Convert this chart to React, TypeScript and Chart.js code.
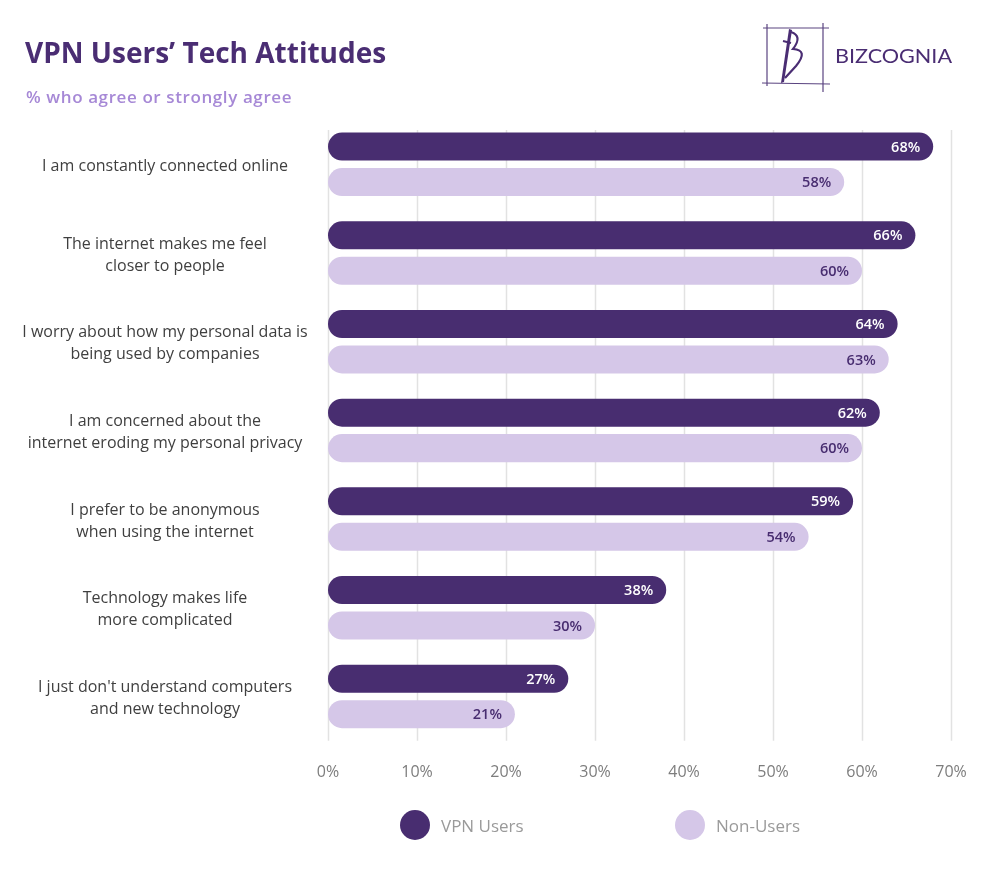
import React, { useEffect, useRef } from "react";
import { Chart, registerables } from "chart.js";

Chart.register(...registerables);

const categories: string[][] = [
  ["I am constantly connected online"],
  ["The internet makes me feel", "closer to people"],
  ["I worry about how my personal data is", "being used by companies"],
  ["I am concerned about the", "internet eroding my personal privacy"],
  ["I prefer to be anonymous", "when using the internet"],
  ["Technology makes life", "more complicated"],
  ["I just don't understand computers", "and new technology"],
];
const vpnUsers = [68, 66, 64, 62, 59, 38, 27];
const nonUsers = [58, 60, 63, 60, 54, 30, 21];
const seriesNames = ["VPN Users", "Non-Users"];
const xTicks = [0, 10, 20, 30, 40, 50, 60, 70];

const DARK = "#482d70";
const LIGHT = "#d5c7e8";
const FONT = "'Open Sans', 'Noto Sans', sans-serif";

const overlay = {
  id: "overlay",
  beforeDatasetsDraw(chart: any) {
    const ctx = chart.ctx;
    const x = chart.scales.x;
    const area = chart.chartArea;
    ctx.save();
    ctx.strokeStyle = "#e2e2e2";
    ctx.lineWidth = 1.5;
    xTicks.forEach((v) => {
      const px = Math.round(x.getPixelForValue(v)) + 0.5;
      ctx.beginPath();
      ctx.moveTo(px, area.top + 10);
      ctx.lineTo(px, area.bottom);
      ctx.stroke();
    });
    ctx.restore();
  },
  afterDatasetsDraw(chart: any) {
    const ctx = chart.ctx;
    ctx.save();
    // value labels
    chart.data.datasets.forEach((ds: any, di: number) => {
      const meta = chart.getDatasetMeta(di);
      meta.data.forEach((bar: any, i: number) => {
        ctx.font = `600 14.5px ${FONT}`;
        ctx.fillStyle = di === 0 ? "#ffffff" : DARK;
        ctx.textAlign = "right";
        ctx.textBaseline = "middle";
        ctx.fillText(ds.data[i] + "%", bar.x - 13, bar.y + 1);
      });
    });
    // category labels
    const y = chart.scales.y;
    ctx.font = `16px ${FONT}`;
    ctx.fillStyle = "#3f3f3f";
    ctx.textAlign = "center";
    ctx.textBaseline = "middle";
    categories.forEach((lines, i) => {
      const cy = y.getPixelForValue(i) + 2;
      const lh = 22;
      lines.forEach((ln, k) => {
        ctx.fillText(ln, 165, cy + (k - (lines.length - 1) / 2) * lh);
      });
    });
    // title
    ctx.textAlign = "left";
    ctx.textBaseline = "alphabetic";
    ctx.fillStyle = "#4a2d73";
    ctx.font = `bold 28px ${FONT}`;
    ctx.fillText("VPN Users\u2019 Tech Attitudes", 25, 63);
    ctx.fillStyle = "#a688d6";
    ctx.font = `600 17px ${FONT}`;
    (ctx as any).letterSpacing = "0.6px";
    ctx.fillText("% who agree or strongly agree", 26, 103);
    (ctx as any).letterSpacing = "0px";
    // legend
    const legend = [
      { x: 415, color: DARK, label: seriesNames[0] },
      { x: 690, color: LIGHT, label: seriesNames[1] },
    ];
    legend.forEach((l) => {
      ctx.fillStyle = l.color;
      ctx.beginPath();
      ctx.arc(l.x, 825, 15, 0, Math.PI * 2);
      ctx.fill();
      ctx.fillStyle = "#9a9a9a";
      ctx.font = `17px ${FONT}`;
      ctx.textBaseline = "middle";
      ctx.fillText(l.label, l.x + 26, 827);
    });
    // logo
    ctx.strokeStyle = "#5a4480";
    ctx.lineWidth = 1.2;
    const seg = (a: number, b: number, c: number, d: number) => {
      ctx.beginPath();
      ctx.moveTo(a, b);
      ctx.lineTo(c, d);
      ctx.stroke();
    };
    seg(767, 24, 767, 86);
    seg(823, 23, 823, 92);
    seg(763, 28, 829, 28);
    seg(762, 83, 830, 84);
    ctx.fillStyle = "#4a2d73";
    ctx.beginPath();
    ctx.moveTo(789, 29);
    ctx.lineTo(792, 30);
    ctx.lineTo(784, 82);
    ctx.lineTo(781, 83);
    ctx.closePath();
    ctx.fill();
    ctx.lineWidth = 2.2;
    ctx.strokeStyle = "#4a2d73";
    ctx.beginPath();
    ctx.moveTo(791, 32);
    ctx.quadraticCurveTo(803, 36, 793, 49);
    ctx.quadraticCurveTo(809, 50, 796, 66);
    ctx.lineTo(785, 78);
    ctx.stroke();
    ctx.beginPath();
    ctx.moveTo(783, 41);
    ctx.lineTo(791, 43);
    ctx.stroke();
    ctx.font = `20px Lato, ${FONT}`;
    ctx.textBaseline = "middle";
    const txt = "BIZCOGNIA";
    const w = ctx.measureText(txt).width;
    ctx.save();
    ctx.translate(835, 57);
    ctx.scale(117 / w, 1);
    ctx.fillText(txt, 0, 0);
    ctx.restore();
    ctx.restore();
  },
};

export default function App() {
  const ref = useRef<HTMLCanvasElement>(null);
  useEffect(() => {
    if (!ref.current) return;
    const chart = new Chart(ref.current, {
      type: "bar",
      data: {
        labels: categories.map((c) => c.join(" ")),
        datasets: [
          {
            label: seriesNames[0],
            data: vpnUsers,
            backgroundColor: DARK,
            borderRadius: 14,
            borderSkipped: false,
            categoryPercentage: 0.8,
            barPercentage: 0.79,
          },
          {
            label: seriesNames[1],
            data: nonUsers,
            backgroundColor: LIGHT,
            borderRadius: 14,
            borderSkipped: false,
            categoryPercentage: 0.8,
            barPercentage: 0.79,
          },
        ],
      },
      plugins: [overlay],
      options: {
        indexAxis: "y",
        responsive: false,
        animation: false,
        layout: { padding: { left: 328, right: 49, top: 120, bottom: 68 } },
        plugins: { legend: { display: false }, tooltip: { enabled: false } },
        scales: {
          x: {
            min: 0,
            max: 70,
            afterBuildTicks: (s: any) => {
              s.ticks = xTicks.map((v) => ({ value: v }));
            },
            grid: { display: false, drawTicks: false },
            border: { display: false },
            ticks: {
              padding: 22,
              color: "#7d7d7d",
              font: { family: FONT, size: 16 },
              callback: (v: any) => v + "%",
            },
          },
          y: { display: false },
        },
      },
    });
    return () => chart.destroy();
  }, []);
  return (
    <div style={{ position: "absolute", left: 0, top: 0, width: 1000, height: 872, background: "#fff" }}>
      <canvas ref={ref} width={1000} height={872} />
    </div>
  );
}
